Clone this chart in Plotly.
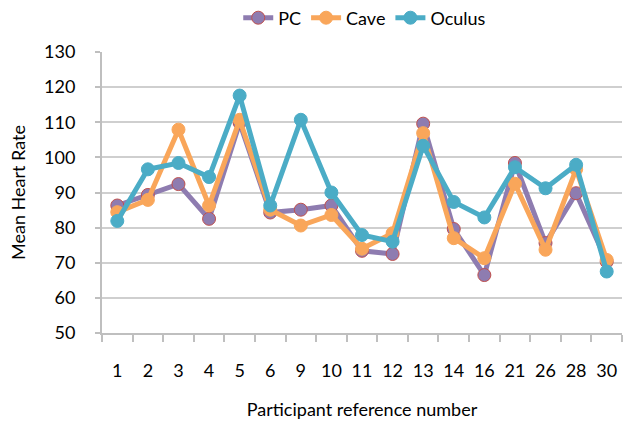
import plotly.graph_objects as go

categories = ["1", "2", "3", "4", "5", "6", "9", "10", "11", "12", "13", "14", "16", "21", "26", "28", "30"]
pc = [86.3, 89.3, 92.4, 82.5, 109.8, 84.3, 85.1, 86.3, 73.4, 72.5, 109.6, 79.6, 66.5, 98.4, 75.6, 89.8, 70.3]
cave = [84.4, 87.9, 107.9, 86.3, 110.7, 85.1, 80.6, 83.6, 74.0, 78.4, 106.9, 77.0, 71.3, 92.5, 73.7, 96.6, 70.8]
oculus = [81.9, 96.6, 98.4, 94.4, 117.6, 86.3, 110.7, 90.0, 77.9, 76.0, 103.3, 87.3, 82.9, 97.2, 91.2, 97.9, 67.5]

series = [
    ("PC", pc, "#8E7CB0", "#C0504D"),
    ("Cave", cave, "#F9A65A", "#F9A65A"),
    ("Oculus", oculus, "#4BACC6", "#4BACC6"),
]

fig = go.Figure()
for name, vals, col, edge in series:
    fig.add_trace(go.Scatter(
        x=categories, y=vals, name=name, mode="lines+markers",
        line=dict(color=col, width=5),
        marker=dict(color=col, size=13, line=dict(color=edge, width=1)),
    ))

font = "Lato, 'Open Sans', sans-serif"
fig.update_layout(
    width=623, height=421,
    margin=dict(l=102, r=1, t=52, b=88, autoexpand=False),
    paper_bgcolor="white", plot_bgcolor="white",
    font=dict(family=font, size=18, color="#000000"),
    showlegend=True,
    legend=dict(orientation="h", x=0.262, xanchor="left", y=1.121, yanchor="middle",
                font=dict(size=18), itemwidth=30, tracegroupgap=0, bgcolor="rgba(0,0,0,0)"),
    xaxis=dict(
        type="category", range=[-0.5, len(categories) - 0.5],
        showgrid=False, showline=True, linecolor="#BFBFBF", linewidth=2,
        ticks="outside", tickson="boundaries", ticklen=7, tickcolor="#BFBFBF", tickwidth=2,
        ticklabelstandoff=20, tickangle=0, automargin=False,
        title=dict(text="Participant reference number", font=dict(size=18), standoff=24),
    ),
    yaxis=dict(
        range=[50, 130], dtick=10, showgrid=True, gridcolor="#CFCFCF", gridwidth=2,
        showline=True, linecolor="#BFBFBF", linewidth=2,
        ticks="outside", ticklen=5, tickcolor="#BFBFBF", tickwidth=2,
        ticklabelstandoff=16, zeroline=False, automargin=False,
        title=dict(text="Mean Heart Rate", font=dict(size=18), standoff=14),
    ),
)
fig.write_html(
    "out.html",
    config={"displayModeBar": False},
    post_script="document.body.style.margin='0';document.body.style.overflow='hidden';",
)
